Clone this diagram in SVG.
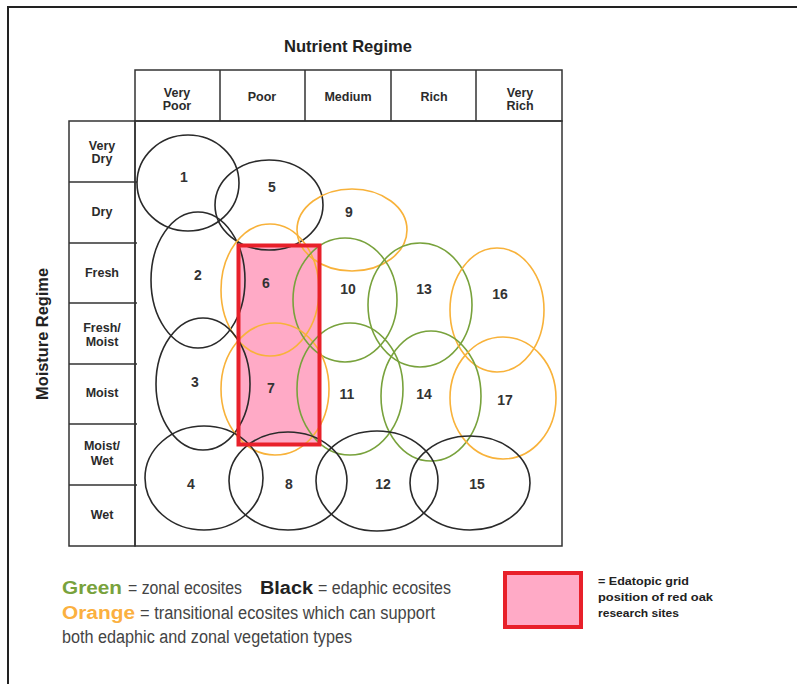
<svg xmlns="http://www.w3.org/2000/svg" width="797" height="684" viewBox="0 0 797 684">
<style>
.frame{fill:none;stroke:#222;stroke-width:2}
.grid{fill:none;stroke:#333;stroke-width:1.5}
.blk{fill:none;stroke:#2a2a2a;stroke-width:1.6}
.org{fill:none;stroke:#F8B23A;stroke-width:1.6}
.grn{fill:none;stroke:#78A23C;stroke-width:1.6}
.hd{font-family:"Liberation Sans",Arial,sans-serif;font-weight:bold;font-size:12.5px;fill:#2b2b2b;text-anchor:middle}
.num{font-family:"Liberation Sans",Arial,sans-serif;font-weight:bold;font-size:14px;fill:#333;text-anchor:middle}
.title{font-family:"Liberation Sans",Arial,sans-serif;font-weight:bold;font-size:17px;fill:#222;text-anchor:middle}
.lg{font-family:"Liberation Sans",Arial,sans-serif;font-size:18px;fill:#444}
.lgb{font-family:"Liberation Sans",Arial,sans-serif;font-size:18px;font-weight:bold}
.note{font-family:"Liberation Sans",Arial,sans-serif;font-size:11.5px;font-weight:bold;fill:#222}
.site{fill:#FFAAC6}
.siteb{fill:none;stroke:#E8202A;stroke-width:4}
</style>
<rect width="797" height="684" fill="#fff"/>
<path class="frame" d="M797 7 H8 V684"/>

<text class="title" x="348" y="52" textLength="128" lengthAdjust="spacingAndGlyphs">Nutrient Regime</text>
<text class="title" transform="translate(48 334) rotate(-90)" textLength="132" lengthAdjust="spacingAndGlyphs">Moisture Regime</text>

<rect class="site" x="238.5" y="245.5" width="81" height="199"/>

<g id="grid">
<rect class="grid" x="135" y="70" width="427" height="51"/>
<path class="grid" d="M220 70V121M305 70V121M391 70V121M476 70V121"/>
<rect class="grid" x="69" y="121" width="66" height="425"/>
<path class="grid" d="M69 182H137M69 243H137M69 303H137M69 364H137M69 424H137M69 485H137"/>
<rect class="grid" x="135" y="121" width="427" height="425"/>
</g>

<g id="headers">
<text class="hd" x="177" y="97">Very</text>
<text class="hd" x="177" y="110">Poor</text>
<text class="hd" x="262" y="101">Poor</text>
<text class="hd" x="348" y="101">Medium</text>
<text class="hd" x="434" y="101">Rich</text>
<text class="hd" x="520" y="97">Very</text>
<text class="hd" x="520" y="110">Rich</text>
<text class="hd" x="102" y="150">Very</text>
<text class="hd" x="102" y="163">Dry</text>
<text class="hd" x="102" y="216">Dry</text>
<text class="hd" x="102" y="277">Fresh</text>
<text class="hd" x="102" y="332">Fresh/</text>
<text class="hd" x="102" y="346">Moist</text>
<text class="hd" x="102" y="397">Moist</text>
<text class="hd" x="102" y="450">Moist/</text>
<text class="hd" x="102" y="465">Wet</text>
<text class="hd" x="102" y="519">Wet</text>
</g>

<g id="e1"><ellipse class="blk" cx="188" cy="183" rx="51" ry="48"/><text class="num" x="184" y="182">1</text></g>
<g id="e5"><ellipse class="blk" cx="269" cy="205" rx="54" ry="45"/><text class="num" x="272" y="192">5</text></g>
<g id="e9"><ellipse class="org" cx="352" cy="230" rx="55" ry="41"/><text class="num" x="349" y="217">9</text></g>
<g id="e2"><ellipse class="blk" cx="198" cy="280" rx="47" ry="68"/><text class="num" x="198" y="280">2</text></g>
<g id="e6"><ellipse class="org" cx="270" cy="290" rx="49" ry="66"/><text class="num" x="266" y="288">6</text></g>
<g id="e10"><ellipse class="grn" cx="345" cy="300" rx="52" ry="62"/><text class="num" x="348" y="294">10</text></g>
<g id="e13"><ellipse class="grn" cx="420" cy="305" rx="52" ry="62"/><text class="num" x="424" y="294">13</text></g>
<g id="e16"><ellipse class="org" cx="497" cy="310" rx="47" ry="62"/><text class="num" x="500" y="299">16</text></g>
<g id="e3"><ellipse class="blk" cx="203" cy="384" rx="47" ry="66"/><text class="num" x="195" y="387">3</text></g>
<g id="e7"><ellipse class="org" cx="275" cy="389" rx="54" ry="66"/><text class="num" x="271" y="393">7</text></g>
<g id="e11"><ellipse class="grn" cx="350" cy="389" rx="53" ry="66"/><text class="num" x="347" y="399">11</text></g>
<g id="e14"><ellipse class="grn" cx="431" cy="396" rx="50" ry="65"/><text class="num" x="424" y="399">14</text></g>
<g id="e17"><ellipse class="org" cx="503" cy="398" rx="53" ry="61"/><text class="num" x="505" y="405">17</text></g>
<g id="e4"><ellipse class="blk" cx="204" cy="478" rx="59" ry="52"/><text class="num" x="191" y="489">4</text></g>
<g id="e8"><ellipse class="blk" cx="288" cy="481" rx="59" ry="49"/><text class="num" x="289" y="489">8</text></g>
<g id="e12"><ellipse class="blk" cx="377" cy="481" rx="61" ry="50"/><text class="num" x="383" y="489">12</text></g>
<g id="e15"><ellipse class="blk" cx="470" cy="483" rx="60" ry="47"/><text class="num" x="477" y="489">15</text></g>

<g id="site-box"><rect class="siteb" x="238.5" y="245.5" width="81" height="199"/></g>

<g id="legend">
<text class="lgb" x="62" y="594" fill="#78A23C" textLength="60" lengthAdjust="spacingAndGlyphs">Green</text>
<text class="lg" x="128" y="594" textLength="114" lengthAdjust="spacingAndGlyphs">= zonal ecosites</text>
<text class="lgb" x="260" y="594" fill="#222" textLength="53" lengthAdjust="spacingAndGlyphs">Black</text>
<text class="lg" x="318" y="594" textLength="133" lengthAdjust="spacingAndGlyphs">= edaphic ecosites</text>
<text class="lgb" x="62" y="619" fill="#FBB040" textLength="73" lengthAdjust="spacingAndGlyphs">Orange</text>
<text class="lg" x="140" y="619" textLength="295" lengthAdjust="spacingAndGlyphs">= transitional ecosites which can support</text>
<text class="lg" x="62" y="643" textLength="290" lengthAdjust="spacingAndGlyphs">both edaphic and zonal vegetation types</text>
</g>

<g id="legend-site">
<rect class="site" x="505" y="573" width="76" height="54"/>
<rect class="siteb" x="505" y="573" width="76" height="54"/>
<text class="note" x="598" y="585" textLength="91" lengthAdjust="spacingAndGlyphs">= Edatopic grid</text>
<text class="note" x="598" y="601" textLength="115" lengthAdjust="spacingAndGlyphs">position of red oak</text>
<text class="note" x="598" y="617" textLength="81" lengthAdjust="spacingAndGlyphs">research sites</text>
</g>
</svg>
